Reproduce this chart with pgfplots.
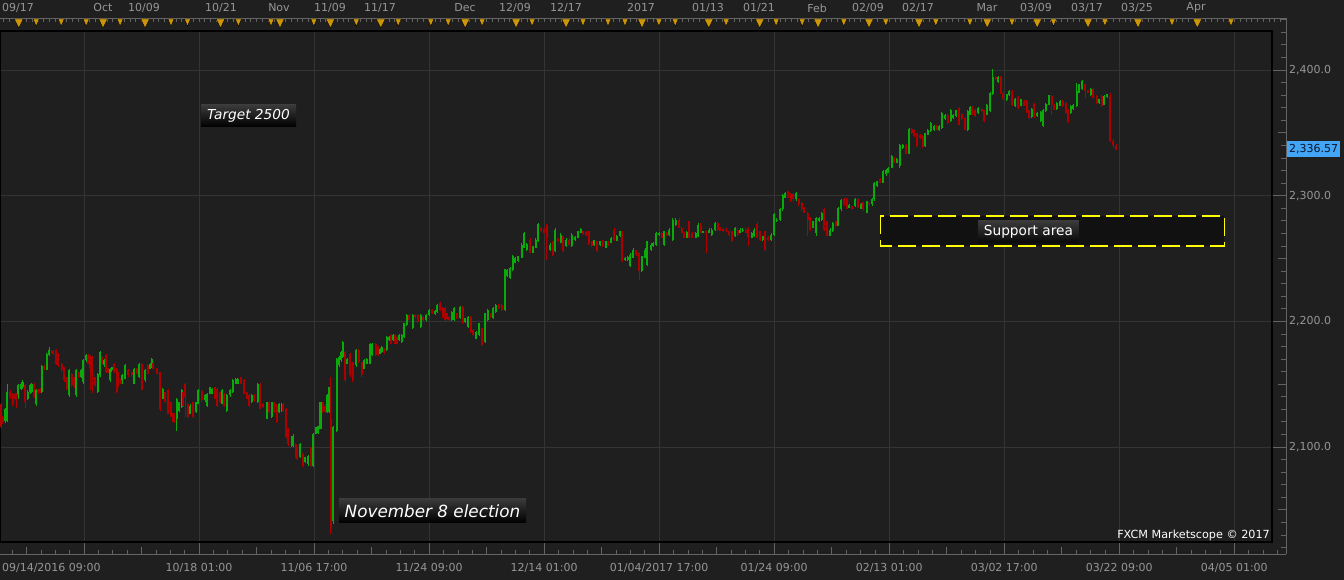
\documentclass[border=0pt]{standalone}
\usepackage{pgfplots}
\pgfplotsset{compat=1.18}
\usepackage{pgfplotstable}
\usepackage{fontspec}
\setmainfont{DejaVu Sans}
\newcommand\fs[1]{\fontsize{#1}{#1}\selectfont}
\definecolor{bg}{RGB}{31,31,31}
\definecolor{gridc}{RGB}{52,52,52}
\definecolor{lab}{RGB}{150,150,150}
\definecolor{upc}{RGB}{10,170,10}
\definecolor{dnc}{RGB}{175,0,0}
\definecolor{gold}{RGB}{205,150,10}
\definecolor{rul}{RGB}{100,100,100}
\definecolor{tag}{RGB}{66,165,245}
\definecolor{tagtext}{RGB}{10,20,40}
\definecolor{yel}{RGB}{255,255,0}
\definecolor{boxfill}{RGB}{17,17,17}
\definecolor{lbtop}{RGB}{58,58,58}
\definecolor{lbbot}{RGB}{8,8,8}

\pgfplotstableread{
x o h l c
5 2121 2131 2119 2130.3
7.3 2121 2150.3 2120 2143.7
18.3 2139.7 2150 2138 2149
21 2146.3 2152 2145 2150.3
22.7 2147.7 2153 2146 2151.7
27.7 2138.3 2145 2137 2143.7
30 2143.7 2150 2142 2149
31.7 2143.7 2151 2143 2150.3
36 2134.3 2146 2133 2145
41.7 2143.7 2165 2143 2164.2
46.7 2161.5 2175 2161 2174.3
49.3 2173 2179.7 2172 2177
69.3 2141 2162 2140 2161
76 2141 2162 2140 2161
81 2155.7 2162 2155 2161
83.3 2151.7 2170 2150 2169
86 2169 2174 2168 2173
97.7 2143.7 2159 2143 2158.3
100 2157 2176.7 2156 2175.7
104 2165 2170 2164 2169
110 2153 2163 2152 2162.3
111.7 2161 2164 2160 2163.7
122.3 2150.3 2158 2150 2157
125 2154.3 2166 2154 2165
134.3 2150.3 2163 2150 2162.3
139.3 2155.7 2167 2155 2166.3
145 2153 2162 2152 2161
150 2162.3 2167 2162 2166.3
151.7 2163.7 2170.5 2163 2169.8
162.7 2138.3 2147 2138 2146.3
176.7 2122.3 2139 2113 2138.3
179 2129 2136 2128 2135.7
181.7 2131.7 2146 2131 2145
190 2126.3 2134 2126 2133
196 2127.7 2136 2127 2135.7
198.3 2134.3 2146 2134 2145
205 2137 2142 2136 2141
207.3 2133 2143 2132 2142.3
210 2142.3 2148 2142 2147.7
212.3 2142.3 2147 2142 2146.3
222.3 2134.3 2146 2134 2145
226.7 2129 2142 2128 2141
230 2141 2146 2140 2145
232.7 2143.7 2154 2143 2153
235.7 2150.3 2155 2150 2154.3
237.7 2150.3 2155 2150 2154.3
251.7 2135.7 2142 2135 2141
257.7 2135.7 2151 2135 2150.3
266.7 2122.3 2136 2122 2135.7
271.7 2123.7 2136 2123 2135.7
279.3 2127.7 2135 2127 2134.3
281.7 2129 2135 2128 2134.3
291.7 2101 2108.5 2100 2107.7
293.3 2101 2110 2100 2109
300 2091.7 2103 2091 2102.3
305 2087.7 2092 2087 2091.7
308.3 2086.3 2094 2085 2093
313.3 2085 2111 2084 2110.3
315.7 2110.3 2116 2110 2115.7
318 2111 2117 2110 2116.5
320.5 2114.3 2136 2114 2135.7
327.3 2127.7 2142 2127 2141
329 2127.7 2148 2127 2147.7
333.3 2041 2117 2039 2115.7
336.7 2113 2171 2112 2170.3
339.3 2165 2172 2164 2171.7
341 2169 2176 2168 2175.7
342.7 2171.7 2184 2171 2183.7
347.3 2166.3 2171 2166 2170.3
356 2165 2178 2164 2177
364 2162.3 2170 2162 2169
366.7 2166.3 2171 2166 2170.3
370 2166.3 2183 2166 2182.3
372.3 2173 2183 2172 2182.3
380 2174.3 2179 2174 2178.3
381.7 2175.7 2180 2175 2179.7
386.7 2177 2188 2176 2187.7
389.3 2185 2188 2184 2187.7
393.3 2185 2190 2184 2189
399.3 2185 2190 2184 2189
401.7 2183.7 2190 2183 2189
404 2187.7 2199 2187 2198.3
406.7 2197 2206 2196 2205
412.7 2194.3 2206 2194 2205
420.7 2195.7 2206 2195 2205
426 2201 2206 2200 2205
429 2205 2210 2204 2209
435 2205.8 2209 2205 2208.2
437.3 2207.7 2214 2207 2213
451.7 2201 2208 2200 2207.7
454 2201 2211 2200 2210.3
460 2202.3 2212 2202 2211.7
465.3 2199.7 2203 2199 2202.3
468 2195.7 2204 2195 2203.7
476 2186.3 2192 2186 2191.7
479 2189 2199 2188 2198.3
485 2183.7 2207 2183 2206.3
487.7 2201 2210 2200 2209
493.3 2202.3 2211 2202 2210.3
495.7 2207.7 2214 2207 2213
505 2209 2242 2208 2241.5
507.3 2235.7 2242 2235 2241
510 2234.3 2243 2234 2242.3
512.7 2241 2253 2240 2252.2
515.3 2246.3 2251 2246 2250.3
518.3 2247.7 2252 2247 2251.7
521.7 2250.3 2262 2250 2261
524.3 2258.3 2271 2258 2270.3
526.7 2257 2262.5 2256 2261.8
532.7 2254.3 2260 2254 2259.7
535.7 2258.3 2266 2258 2265
538.3 2263.7 2278.5 2263 2277.8
550 2257 2262 2256 2261
555 2255.7 2274 2255 2273
560.7 2262.3 2270 2262 2269
566 2259.7 2266 2259 2265
571.7 2259.7 2270 2259 2269
575 2265 2268 2264 2267.1
577.7 2266.3 2272 2266 2271.7
580.7 2270.3 2274 2270 2273.5
594.3 2260.5 2265 2260 2264.5
600 2261 2264 2260 2263.7
606 2258.3 2264 2258 2263.7
611 2262.3 2267 2262 2266.3
616.7 2264.2 2269 2264 2268.2
620 2267.7 2272 2267 2271.7
625 2248.5 2251 2248 2250.3
627.7 2249 2252 2248 2251.1
630 2243.7 2254 2243 2253
633.3 2250.3 2258 2250 2257
641.7 2239.7 2252 2239 2251.7
645 2250.3 2258 2250 2257
647.3 2245 2264 2244 2263.7
651 2257 2262 2256 2261
653.3 2259.7 2263 2259 2262.3
656 2261 2271 2260 2270.3
659.3 2269 2271 2268 2270.3
664.3 2261 2272 2260 2271.7
669.3 2269 2274 2268 2273
672.7 2265 2282 2264 2281
675.7 2277 2282 2276 2281
686.7 2266.3 2271.5 2266 2270.9
695.7 2266.3 2271 2266 2270.3
698.3 2267.7 2278 2267 2277
703.3 2270.3 2272 2270 2271.7
709.3 2270.3 2274 2270 2273
711.7 2269 2274 2268 2273
715 2273 2279 2272 2278.3
735 2267.7 2275 2267 2274.3
740 2270.3 2274 2270 2273
742.7 2271.7 2274 2271 2273
751.7 2266.3 2271 2266 2270.3
754.3 2267.7 2274 2267 2273
762.7 2265 2268 2264 2267.7
771 2265 2270 2264 2269
774 2269 2286 2268 2285
776.7 2279.7 2282 2279 2281
780 2281 2290 2280 2289.5
782.7 2289 2301 2288 2300.2
785 2298.3 2303 2298 2302.3
796 2297 2303 2296 2302.3
813.3 2274.3 2280 2274 2279.7
816 2270 2283 2267.7 2282.3
819 2279.7 2283 2279 2282.3
821.7 2281 2287 2280 2286.3
830 2268.2 2274 2268 2273
832.7 2271.7 2279 2271 2278.3
838.3 2276.2 2291 2276 2290.3
841 2289 2297 2288 2296.5
849.3 2290.3 2293 2290 2292.2
855 2291.7 2298 2291 2297
861 2289.5 2294 2289 2293
866.7 2286.3 2296 2286 2295.7
872 2293 2298 2292 2297
874.3 2297 2311 2296 2310.3
877.3 2307.7 2312 2307 2311.7
883.3 2310.3 2320 2310 2319.7
886 2317 2321 2316 2320.5
888.3 2318.3 2323 2318 2322.3
891.7 2322.3 2332 2322 2331.7
896.7 2326.3 2330 2326 2329.5
899.7 2323.2 2341 2322 2340.5
902.7 2337.8 2341 2337 2340.5
909 2333.3 2354 2333 2353.3
925 2339.2 2350 2339 2349.8
927.7 2348.5 2353 2348 2352.5
930.7 2351.2 2358.5 2351 2357.8
934 2352 2356.5 2351.5 2355.7
939.3 2352 2356.5 2351.5 2355.7
941.7 2353.8 2366.5 2353 2365.8
945 2361 2365 2360 2364.5
950.7 2359.2 2369 2358.5 2368.5
953.3 2361.8 2365 2361 2364.5
956 2363.2 2368.5 2362.5 2368
967.7 2352 2368 2351.5 2367.2
970 2364.5 2371.3 2364 2370.6
978.3 2365.8 2370.5 2365 2369.8
986.7 2364.5 2373 2364 2372.5
990 2367.2 2382.5 2366.5 2381.8
992.7 2380.5 2401 2380 2394.6
998.3 2390.4 2395.3 2390 2394.6
1006.7 2375.9 2381 2375.5 2380.5
1009.3 2379.7 2383.8 2379 2383.2
1015 2371.2 2377.6 2370.6 2377
1021 2371.7 2377 2371 2376.5
1031.7 2362.4 2369.6 2362 2369
1037.3 2363.2 2366.4 2362.7 2365.8
1040.7 2359.2 2367 2358.6 2366.4
1043.3 2355.2 2369.1 2354.6 2368.5
1045.7 2367.2 2373.6 2366.6 2373
1048.7 2372.5 2380.3 2372 2379.7
1056.7 2369 2374.3 2368.5 2373.8
1060 2371.7 2375.8 2371.2 2375.2
1070.7 2365.8 2371.8 2365.3 2371.2
1073.3 2369 2373 2368.5 2372.5
1076.7 2371.7 2389.8 2370.6 2383.2
1079.3 2381.8 2389.1 2381.3 2388.5
1082.3 2384.5 2391.8 2384 2391.2
1090.7 2379.7 2385.6 2379.2 2385
1099.3 2373.8 2377 2373.3 2376.5
1104.3 2372.5 2379.8 2372 2379.2
1107.3 2378.6 2381 2378 2380.5
}\up

\pgfplotstableread{
x o h l c
1 2134.3 2135 2114 2116
2.7 2124 2125 2118 2120
10 2143.7 2145 2138 2139.7
12.7 2142.3 2143 2133 2134.3
15 2142.3 2143 2137 2138.3
16.7 2142 2143 2131 2139.7
25 2149 2150 2131 2135.7
34.3 2150.3 2151 2139 2139.7
38.3 2145 2146 2142 2143.7
40 2146.3 2147 2143 2143.7
44.3 2164.2 2165 2161 2162.3
51.7 2176.5 2177 2174 2174.9
53.3 2176.5 2177.5 2173.5 2174.3
56 2177 2178 2165 2166.3
58.3 2174.3 2175 2164 2165
61.7 2166.3 2167 2160 2161
64 2163.7 2164 2152 2153
66.7 2155.7 2156 2145 2146.3
71.7 2158.3 2159 2148 2149
74 2155.7 2156 2147 2147.7
78.7 2159.7 2160 2155 2155.7
88.3 2173 2174 2166 2166.3
90 2172 2173 2145 2163
92.3 2171 2172 2143 2160
95 2155.7 2156 2148 2149
101.7 2171.7 2172 2166 2166.3
106 2173 2174 2159 2159.7
108.3 2162.3 2163 2159 2159.7
114.3 2166.3 2167 2159 2159.7
116.7 2162.3 2163 2143 2143.7
118.3 2159.7 2160 2148 2149
120.7 2153 2154 2150 2150.3
128.3 2161 2162 2156 2157
131.7 2159.7 2160 2156 2157
136.7 2162.3 2163 2158 2158.3
141.7 2166.3 2167 2145 2145.5
147.7 2165 2166 2158 2158.3
153.3 2167.1 2168 2162 2162.3
156.7 2162.3 2163 2158 2158.3
160 2159.7 2160 2129 2130
165 2143.7 2144 2135 2135.7
168.3 2145 2146 2126 2126.3
170.7 2135.7 2136 2124 2125
172.7 2126.3 2127 2120 2121
174.3 2126.3 2127 2119 2119.7
183.3 2143.7 2144 2132 2133
185 2150.3 2151 2123.7 2140
187.7 2134.3 2135 2123 2123.7
193.3 2135.7 2136 2123 2124
201.7 2144.5 2145 2136 2137
215 2147.7 2148 2138 2138.3
217.3 2146.3 2147 2132 2133
220 2143.7 2144 2135 2135.7
224.3 2142.3 2143 2132 2133
240.7 2155.7 2156 2150 2150.3
244 2153 2154 2142 2142.3
246.7 2143.7 2144 2138 2138.3
249.3 2141 2142 2132 2133
254.3 2141 2142 2136 2137
260 2150.3 2151 2130 2130.3
263.3 2134.3 2135 2131 2131.7
269.3 2135.7 2136 2127 2127.7
274.3 2135.7 2136 2127 2127.7
276.7 2133 2134 2119 2119.7
283.3 2134.3 2135 2128 2129
286 2130.3 2131 2107 2107.7
288.3 2114.3 2115 2101 2102.3
295.7 2102.3 2103 2091 2091.7
297.3 2098.3 2099 2090 2090.3
302.7 2094.3 2095 2084 2085
311 2099.7 2100 2084 2085
322.7 2135.7 2136 2127 2127.7
325 2133 2134 2127 2127.7
330.7 2122.3 2155.7 2031 2035
345 2175.7 2176 2152 2153
350 2174.3 2175 2156 2157
352.7 2167.7 2168 2152 2153
358.7 2177 2178 2167 2167.7
361.7 2167.7 2168 2156 2157
375.7 2182.3 2183 2172 2173
378.3 2179.7 2180 2172 2173
384 2178.3 2179 2174 2174.9
391 2189 2190 2182 2182.3
395 2189 2190 2182 2182.3
397.3 2187.7 2188 2182 2182.3
409.3 2205 2206 2200 2201
415.3 2205 2206 2202 2203.1
417.7 2205 2206 2199 2199.7
423.3 2203.7 2204 2200 2201
432 2209 2210 2206 2206.3
440 2214.3 2215 2208 2209
442.7 2210.3 2211 2203 2203.7
445 2210.3 2211 2200 2201
447.3 2206.3 2207 2201 2201.5
449.3 2203.7 2204 2200 2201
456.7 2206.3 2207 2202 2202.3
462.7 2211.7 2212 2198 2198.3
470.7 2203.7 2204 2191 2191.7
473.3 2193 2194 2188 2189
481.7 2194.3 2195 2180 2181
490.7 2206.3 2207 2203 2203.7
498.7 2213 2214 2210 2210.3
501.7 2213 2214 2208 2209
530 2265 2266 2254 2254.3
541 2274.3 2275 2271 2271.7
544 2273.5 2274 2270 2270.3
546.7 2277 2277.5 2249 2266.3
552.7 2263.7 2264 2252 2253
558.3 2265.5 2266 2263 2263.7
563.3 2267.7 2268 2255 2255.7
569 2265 2266 2260 2261
583.3 2271.7 2272 2269 2269.8
586 2271.1 2272 2268 2269
588.7 2271.7 2272 2261 2261.8
591.7 2263.7 2264 2259 2259.7
597.3 2263.7 2264 2255 2255.7
602.7 2264.2 2265 2259 2259.7
608.3 2263.7 2264 2260 2261
614 2273 2274 2264 2265
622.3 2271.7 2272 2247 2247.7
636 2256.5 2257 2252 2253
639.3 2254.3 2255 2233 2239.7
661.7 2270.3 2271 2266 2266.3
666.7 2270.3 2271 2268 2268.2
679 2281 2282 2274 2274.3
681.7 2274.3 2275 2270 2270.3
684 2270.3 2271 2266 2266.3
689.3 2279.7 2280 2266 2266.3
692 2270.3 2271 2266 2266.3
700.7 2277 2278 2270 2270.3
706 2271.7 2272 2254.3 2270.3
717.7 2278.3 2279 2272 2273
720 2274.3 2275 2272 2272.2
723.3 2273.5 2274 2271 2271.7
726 2273 2274 2271 2271.7
729 2271.7 2272 2268 2269
731.7 2271.7 2272 2263 2263.7
737.7 2273 2274 2268 2269
745.7 2273 2274 2270 2270.3
748.3 2274.3 2275 2259.7 2267
757.3 2277.8 2279 2266 2266.3
760 2271.7 2272 2264 2265
765.3 2271.7 2272 2256 2257
768.3 2267.1 2268 2264 2265
787.7 2303.7 2304 2298 2298.3
790.7 2301 2302 2295 2295.7
793.3 2301 2302 2296 2297
798.7 2297 2298 2292 2293
801.7 2294.3 2295 2288 2289
804.3 2290.3 2291 2286 2286.3
807.7 2286.3 2287 2268.2 2281
810 2282.3 2283 2272 2273
824.3 2289 2290 2272 2273
826.7 2279.7 2280 2268 2268.2
835.7 2279.7 2280 2275 2275.7
844 2297 2298 2292 2293
846.7 2297 2298 2289 2289.5
852 2291.7 2292 2289 2289.5
857.7 2297 2298 2290 2290.3
863.3 2294.9 2295 2288 2289
869.3 2294.3 2295 2292 2293
880 2313 2314 2310 2310.3
894.3 2330.3 2331 2326 2326.3
906 2340.5 2341 2333 2333.3
911.7 2353 2354 2349 2349.8
914 2352 2352.5 2347 2347.7
916.7 2349.8 2350 2339 2339.2
920 2348.5 2349 2345 2345.8
922.7 2347.2 2348 2338 2338.6
936.7 2355.7 2356.5 2352 2352.5
947.7 2364.5 2365 2357 2357.8
959 2369.8 2370.5 2356 2356.5
961.7 2365.3 2366 2360.5 2361
965 2361.8 2362.5 2352 2352.5
972.3 2370.6 2371.3 2364 2364.5
975 2368.5 2369 2362.5 2363.2
981.7 2369 2369.5 2366.5 2367.2
984.3 2368 2368.5 2358.5 2359.2
995.7 2394.6 2395.3 2392 2392.5
1000.7 2394.6 2395.3 2381 2381.8
1003.3 2381.8 2382.5 2376 2376.5
1012.3 2383.2 2383.8 2371.5 2372
1018.3 2378.6 2379.2 2369.3 2369.8
1024 2375.2 2375.8 2371.2 2371.7
1026.7 2375.2 2375.8 2366 2366.4
1029 2368 2368.5 2361.2 2361.8
1034.3 2373.3 2373.9 2362 2362.6
1051.7 2379.2 2379.8 2364.5 2372.5
1054.3 2372.5 2373 2368 2368.5
1062.7 2375.2 2375.8 2370.7 2371.2
1065.7 2373.8 2374.4 2365.3 2365.8
1068.3 2368.5 2369 2358 2358.4
1085 2388.5 2389.1 2377.8 2383.2
1087.7 2383.7 2384.3 2381.3 2381.8
1093.3 2385 2385.6 2377.3 2377.8
1096.7 2379.2 2379.8 2373.3 2373.8
1101.7 2379.2 2379.8 2370.6 2371.2
1110 2379.2 2381.8 2342.6 2343.2
1113.3 2343.2 2345.3 2337.8 2340
1116 2340.5 2341 2336 2336.57
}\dn

\begin{document}
\begin{tikzpicture}[x=1pt,y=1pt]
\fill[bg] (0pt,0pt) rectangle (1344pt,580pt);

% rulers (decoration)
\draw[rul, line width=0.8pt] (0,26) -- (1286,26);
\draw[rul, line width=0.8pt] (0,561.7) -- (1286,561.7);
\draw[rul, line width=0.8pt] (1286,26) -- (1286,562);
\foreach \i in {-5,...,83} {\draw[rul, line width=0.7pt] ({84+\i*14.379},26) -- ++(0,4);}
\foreach \i in {-1,...,20} {\draw[rul, line width=0.7pt] ({84+\i*57.515},26) -- ++(0,7);}
\foreach \i in {0,...,10} {\draw[rul, line width=0.8pt] ({84+\i*115.03},26) -- ++(0,12);}
\foreach \i in {-14,...,208} {\draw[rul, line width=0.6pt] ({84+\i*5.7515},561.7) -- ++(0,-3.5);}
\foreach \p in {2020,2030,...,2440} {\pgfmathsetmacro\yy{38+(\p-2024.4)*1.25676}\draw[rul, line width=0.7pt] (1281,\yy) -- (1286,\yy);}
\foreach \p in {2050,2100,...,2400} {\pgfmathsetmacro\yy{38+(\p-2024.4)*1.25676}\draw[rul, line width=0.7pt] (1278,\yy) -- (1286,\yy);}
\foreach \p in {2100,2200,2300,2400} {\pgfmathsetmacro\yy{38+(\p-2024.4)*1.25676}\draw[rul, line width=0.8pt] (1272,\yy) -- (1286,\yy);}

\begin{axis}[
  at={(0pt,38pt)}, anchor=south west, scale only axis,
  width=1272pt, height=511pt,
  xmin=0, xmax=1272, ymin=2024.4, ymax=2431.0,
  axis background/.style={fill=bg},
  axis line style={draw=black, line width=1.2pt},
  xtick={84,199.03,314.06,429.09,544.12,659.15,774.18,889.21,1004.24,1119.27,1234.3},
  xticklabels={,10/18 01:00,11/06 17:00,11/24 09:00,12/14 01:00,01/04/2017 17:00,01/24 09:00,02/13 01:00,03/02 17:00,03/22 09:00,04/05 01:00},
  extra x ticks={51.4},
  extra x tick labels={09/14/2016 09:00},
  extra x tick style={grid=none},
  ytick={2100,2200,2300,2400},
  yticklabels={{2,100.0},{2,200.0},{2,300.0},{2,400.0}},
  yticklabel pos=right,
  grid=major,
  major grid style={draw=gridc, line width=0.9pt},
  major tick length=0pt,
  tick style={draw=none},
  tick label style={font=\fs{11}, text=lab, inner sep=0pt},
  xticklabel style={anchor=center, yshift=-26pt},
  yticklabel style={anchor=west, xshift=17pt},
]
% wicks
\addplot[draw=none, forget plot, error bars/.cd, y dir=plus, y explicit, error mark=none,
  error bar style={draw=upc, line width=1pt, solid}]
  table[x=x, y=l, y error expr=\thisrow{h}-\thisrow{l}] {\up};
\addplot[draw=none, forget plot, error bars/.cd, y dir=plus, y explicit, error mark=none,
  error bar style={draw=dnc, line width=1pt, solid}]
  table[x=x, y=l, y error expr=\thisrow{h}-\thisrow{l}] {\dn};
% bodies
\addplot[draw=none, forget plot, error bars/.cd, y dir=plus, y explicit, error mark=none,
  error bar style={draw=upc, line width=2.1pt, solid}]
  table[x=x, y=o, y error expr=\thisrow{c}-\thisrow{o}] {\up};
\addplot[draw=none, forget plot, error bars/.cd, y dir=plus, y explicit, error mark=none,
  error bar style={draw=dnc, line width=2.1pt, solid}]
  table[x=x, y=c, y error expr=\thisrow{o}-\thisrow{c}] {\dn};

% annotations
\draw[yel, line width=1.3pt, dash pattern=on 18pt off 6pt, fill=boxfill]
  (axis cs:880.3,2283.8) rectangle (axis cs:1224.3,2260.0);
\node[minimum width=101pt, minimum height=21.7pt, inner sep=0pt, top color=lbtop, bottom color=lbbot,
  text=white, font=\fs{13.7}] at (axis cs:1028.4,2271.2) {Support area};
\node[minimum width=95pt, minimum height=21.7pt, inner sep=0pt, top color=lbtop, bottom color=black,
  text=white, font=\fs{13.7}\itshape] at (axis cs:248.5,2363.5) {Target 2500};
\node[minimum width=187pt, minimum height=23.7pt, inner sep=0pt, top color=lbtop, bottom color=black,
  text=white, font=\fs{16.8}\itshape] at (axis cs:432.5,2049.2) {November 8 election};
\node[anchor=east, inner sep=0pt, text=white, font=\fs{11.2}] at (axis cs:1270,2030.0) {FXCM Marketscope © 2017};
\end{axis}

% top date axis with event markers
\begin{axis}[
  at={(0pt,549pt)}, anchor=south west, scale only axis,
  width=1272pt, height=13pt,
  xmin=0, xmax=1272, ymin=0, ymax=13,
  axis line style={draw=none},
  ytick=\empty,
  xtick={18,103,144,221,279,330,380,465,515,566,641,708,759,817,868,918,987,1036,1087,1137,1196},
  xticklabels={09/17,Oct,10/09,10/21,Nov,11/09,11/17,Dec,12/09,12/17,2017,01/13,01/21,Feb,02/09,02/17,Mar,03/09,03/17,03/25,Apr},
  xticklabel pos=upper,
  major tick length=0pt,
  tick style={draw=none},
  xticklabel style={anchor=center, yshift=10pt, inner sep=0pt, font=\fs{11}, text=lab},
  clip=false,
]
\addplot[only marks, mark=triangle*, mark size=6pt, mark options={rotate=180, xscale=0.85, fill=gold, draw=none}]
coordinates {(18.8,9.0)(103.1,9.0)(145.1,9.0)(220.5,9.0)(280,9.0)(330.4,9.0)(380.8,9.0)(465.2,9.0)(516.1,9.0)(566.1,9.0)(642,9.0)(708.8,9.0)(759.7,9.0)(818.1,9.0)(869,9.0)(919,9.0)(987.2,9.0)(1037.2,9.0)(1088,9.0)(1138,9.0)(1197.3,9.0)};
\addplot[only marks, mark=triangle*, mark size=4.8pt, mark options={rotate=180, xscale=0.75, fill=gold, draw=none}]
coordinates {(36.2,9.6)(61.2,9.6)(86.2,9.6)(120.1,9.6)(171,9.6)(187.5,9.6)(238.4,9.6)(271,9.6)(313.8,9.6)(356.3,9.6)(398.2,9.6)(430.8,9.6)(448.2,9.6)(482.1,9.6)(532.1,9.6)(583,9.6)(608,9.6)(625,9.6)(658.9,9.6)(675.2,9.6)(726.1,9.6)(776.1,9.6)(802.2,9.6)(843.8,9.6)(885.8,9.6)(935.8,9.6)(969.9,9.6)(1012,9.6)(1053.5,9.6)(1104.9,9.6)(1172,9.6)(1231,9.6)};
\end{axis}

% last price tag
\fill[tag] (1287,423.3) rectangle (1339.5,439.3);
\node[anchor=west, inner sep=0pt, text=tagtext, font=\fs{11}] at (1289,431.3) {2,336.57};

\pgfresetboundingbox
\path[use as bounding box] (0pt,0pt) rectangle (1344pt,580pt);
\end{tikzpicture}
\end{document}
